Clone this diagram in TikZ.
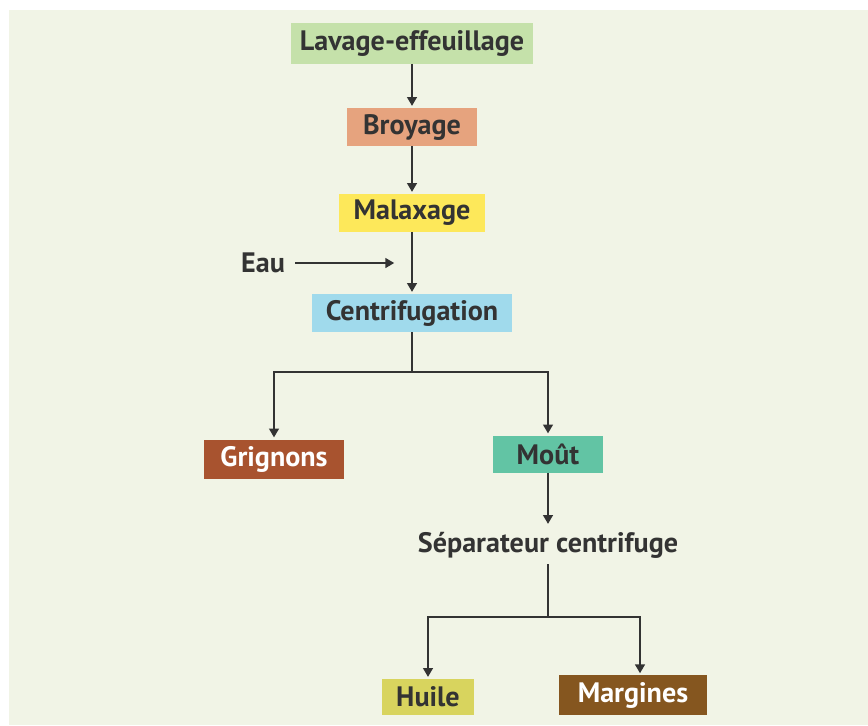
\documentclass[tikz,border=0pt]{standalone}
\usepackage{fontspec}
\setmainfont{PT Sans}
\usepackage{tikz}
\usepackage{xcolor}
\usetikzlibrary{arrows.meta}

\definecolor{bg-green}{HTML}{F1F4E6}
\definecolor{lavage-col}{HTML}{C5E1AA}
\definecolor{broyage-col}{HTML}{E6A37E}
\definecolor{malaxage-col}{HTML}{FDE85A}
\definecolor{centri-col}{HTML}{A0DAEC}
\definecolor{grignons-col}{HTML}{A8532F}
\definecolor{mout-col}{HTML}{62C4A4}
\definecolor{huile-col}{HTML}{D8D45E}
\definecolor{margines-col}{HTML}{85561F}
\definecolor{line-col}{HTML}{333333}

\tikzset{
    stage-box/.style = {rectangle, inner sep=0pt, minimum height=0.76cm, text=line-col, font=\fontsize{16}{19}\selectfont\bfseries},
    dark-box/.style = {stage-box, text=white},
    flow-arrow/.style = {draw=line-col, line width=1.1pt, -{Triangle[width=5.5pt,length=5pt]}, shorten >=1pt},
    flow-line/.style = {draw=line-col, line width=1.1pt},
}

\begin{document}
\begin{tikzpicture}[x=0.02cm, y=-0.02cm]
\useasboundingbox (0,0) rectangle (868,725);
\fill[white] (0,0) rectangle (868,725);
\fill[bg-green] (9,10) rectangle (868,725);

% etapes
\node[stage-box, fill=lavage-col, minimum width=4.84cm, minimum height=0.82cm] (lavage) at (412,43) {Lavage-effeuillage};
\node[stage-box, fill=broyage-col, minimum width=2.62cm] (broyage) at (412,127) {Broyage};
\node[stage-box, fill=malaxage-col, minimum width=2.94cm] (malaxage) at (412,213) {Malaxage};
\node[stage-box, fill=centri-col, minimum width=4.0cm] (centri) at (412,313) {Centrifugation};
\node[stage-box] (eau) at (263,263) {Eau};
\coordinate (eau-end) at (396,263);

\node[dark-box, fill=grignons-col, minimum width=2.82cm, minimum height=0.78cm] (grignons) at (274,459) {Grignons};
\node[stage-box, fill=mout-col, minimum width=2.22cm, minimum height=0.74cm] (mout) at (548,454) {Moût};
\node[stage-box] (separateur) at (548,545) {Séparateur centrifuge};

\node[stage-box, fill=huile-col, minimum width=1.84cm, minimum height=0.72cm] (huile) at (428,697) {Huile};
\node[dark-box, fill=margines-col, minimum width=2.96cm, minimum height=0.8cm] (margines) at (633,695) {Margines};

% fleches
\draw[flow-arrow] (lavage) -- (broyage);
\draw[flow-arrow] (broyage) -- (malaxage);
\draw[flow-arrow] (malaxage) -- (centri);
\draw[flow-arrow] (eau.east) ++(10,0) -- (eau-end);

\coordinate (fork-a) at (412,372);
\draw[flow-line] (centri) -- (fork-a);
\draw[flow-arrow] (fork-a) -| (grignons);
\draw[flow-arrow] (fork-a) -| (mout);
\draw[flow-arrow] (mout) -- (separateur);

\coordinate (fork-b) at (548,617);
\coordinate (margines-in) at (640,675);
\draw[flow-line] (separateur) -- (fork-b);
\draw[flow-arrow] (fork-b) -| (huile);
\draw[flow-arrow] (fork-b) -| (margines-in);
\end{tikzpicture}
\end{document}
